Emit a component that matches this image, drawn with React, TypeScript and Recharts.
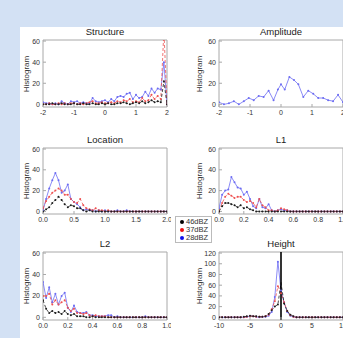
import { LineChart, Line, XAxis, YAxis, ReferenceArea, ReferenceLine } from "recharts"

// ---- data ----
const structX = [-2.0, -1.9, -1.8, -1.7, -1.6, -1.5, -1.4, -1.3, -1.2, -1.1, -1.0, -0.9, -0.8, -0.7, -0.6, -0.5, -0.4, -0.3, -0.2, -0.1, 0.0, 0.1, 0.2, 0.3, 0.4, 0.5, 0.6, 0.7, 0.8, 0.9, 1.0, 1.1, 1.2, 1.3, 1.4, 1.5, 1.6, 1.7, 1.8, 1.9, 2.0]
const struct28 = [2, 1, 1, 0, 1, 0, 3, 1, 0, 3, 2, 3, 1, 2, 1, 1, 6, 3, 2, 3, 4, 2, 5, 3, 7, 8, 7, 10, 11, 5, 9, 6, 7, 12, 8, 15, 11, 15, 14, 40, 0]
const struct37 = [0, 0, 1, 0, 0, 1, 0, 1, 0, 1, 1, 0, 1, 0, 1, 2, 3, 1, 1, 2, 1, 1, 2, 1, 3, 2, 4, 3, 5, 2, 3, 2, 6, 3, 4, 9, 5, 8, 5, 70, 0]
const struct46 = [0, 0, 0, 1, 0, 0, 1, 0, 0, 0, 1, 0, 0, 1, 0, 0, 1, 0, 0, 1, 0, 1, 0, 0, 1, 1, 2, 1, 0, 1, 2, 1, 3, 1, 2, 4, 2, 3, 2, 22, 0]

const ampX = [-2.0, -1.84, -1.68, -1.52, -1.36, -1.2, -1.04, -0.88, -0.72, -0.56, -0.4, -0.24, -0.1, 0.0, 0.12, 0.27, 0.42, 0.56, 0.72, 0.88, 1.04, 1.2, 1.36, 1.52, 1.68, 1.84, 2.0]
const amp28 = [2, 0, 1, 3, 0, 3, 6, 4, 8, 7, 13, 4, 14, 19, 14, 26, 23, 19, 7, 13, 10, 6, 6, 4, 3, 9, 2]

const locX = [0.0, 0.05, 0.1, 0.15, 0.2, 0.25, 0.3, 0.35, 0.4, 0.45, 0.5, 0.55, 0.6, 0.65, 0.7, 0.75, 0.8, 0.85, 0.9, 0.95, 1.0, 1.05, 1.1, 1.15, 1.2, 1.25, 1.3, 1.35, 1.4, 1.45, 1.5, 1.55, 1.6, 1.65, 1.7, 1.75, 1.8, 1.85, 1.9, 1.95, 2.0]
const loc28 = [1, 12, 22, 30, 37, 30, 18, 20, 26, 12, 9, 7, 4, 1, 2, 1, 1, 0, 1, 0, 1, 0, 0, 0, 1, 0, 0, 1, 0, 0, 0, 0, 0, 0, 0, 0, 0, 0, 0, 0, 0]
const loc37 = [3, 10, 14, 18, 20, 22, 20, 16, 16, 12, 9, 8, 12, 6, 3, 2, 1, 3, 1, 1, 0, 1, 0, 0, 0, 0, 0, 0, 0, 0, 0, 0, 0, 0, 0, 0, 0, 0, 0, 0, 0]
const loc46 = [0, 2, 4, 8, 11, 14, 11, 7, 4, 6, 5, 3, 3, 1, 0, 1, 0, 0, 0, 0, 0, 0, 0, 0, 0, 0, 0, 0, 0, 0, 0, 0, 0, 0, 0, 0, 0, 0, 0, 0, 0]

const lX = [0.0, 0.025, 0.05, 0.075, 0.1, 0.125, 0.15, 0.175, 0.2, 0.225, 0.25, 0.275, 0.3, 0.325, 0.35, 0.375, 0.4, 0.425, 0.45, 0.475, 0.5, 0.525, 0.55, 0.575, 0.6, 0.625, 0.65, 0.675, 0.7, 0.725, 0.75, 0.775, 0.8, 0.825, 0.85, 0.875, 0.9, 0.925, 0.95, 0.975, 1.0]
const l1_28 = [3, 16, 20, 21, 33, 28, 23, 22, 16, 19, 12, 5, 3, 12, 4, 3, 7, 1, 0, 1, 2, 1, 1, 0, 0, 0, 0, 0, 0, 0, 0, 0, 0, 0, 0, 0, 0, 0, 0, 0, 0]
const l1_37 = [0, 8, 14, 17, 15, 13, 14, 14, 11, 9, 10, 8, 4, 12, 6, 4, 1, 1, 0, 1, 3, 2, 1, 0, 0, 0, 0, 0, 0, 0, 0, 0, 0, 0, 0, 0, 0, 0, 0, 0, 0]
const l1_46 = [0, 5, 8, 8, 7, 6, 4, 6, 3, 4, 2, 1, 0, 0, 0, 0, 0, 0, 0, 0, 0, 0, 0, 0, 0, 0, 0, 0, 0, 0, 0, 0, 0, 0, 0, 0, 0, 0, 0, 0, 0]

const l2_28 = [33, 18, 28, 14, 22, 12, 20, 23, 9, 5, 11, 5, 4, 4, 5, 2, 2, 1, 1, 1, 1, 2, 2, 0, 1, 0, 0, 0, 0, 0, 0, 0, 0, 1, 0, 0, 0, 0, 0, 0, 0]
const l2_37 = [20, 20, 22, 12, 16, 12, 14, 16, 9, 6, 8, 4, 4, 3, 4, 2, 1, 2, 1, 1, 1, 0, 0, 0, 0, 0, 0, 0, 0, 0, 0, 0, 0, 0, 0, 0, 0, 0, 0, 0, 0]
const l2_46 = [16, 8, 4, 6, 4, 5, 3, 6, 3, 2, 3, 1, 1, 1, 0, 0, 1, 0, 0, 0, 0, 0, 0, 0, 0, 0, 0, 0, 0, 0, 0, 0, 0, 0, 0, 0, 0, 0, 0, 0, 0]

const hX = [-10, -9.5, -9, -8.5, -8, -7.5, -7, -6.5, -6, -5.5, -5, -4.5, -4, -3.5, -3, -2.5, -2, -1.5, -1, -0.5, 0, 0.5, 1, 1.5, 2, 2.5, 3, 3.5, 4, 4.5, 5, 5.5, 6, 6.5, 7, 7.5, 8, 8.5, 9, 9.5, 10]
const h28 = [0, 0, 0, 0, 0, 0, 0, 0, 0, 1, 2, 2, 1, 0, 1, 1, 3, 10, 38, 104, 50, 28, 10, 3, 1, 0, 0, 0, 0, 0, 0, 0, 0, 0, 0, 0, 0, 0, 0, 0, 0]
const h37 = [0, 0, 0, 0, 0, 0, 0, 0, 0, 1, 2, 2, 1, 1, 1, 2, 5, 15, 30, 58, 45, 28, 12, 4, 1, 0, 0, 0, 0, 0, 0, 0, 0, 0, 0, 0, 0, 0, 0, 0, 0]
const h46 = [0, 0, 0, 0, 0, 0, 0, 0, 1, 2, 3, 2, 2, 1, 1, 2, 6, 13, 20, 24, 64, 26, 12, 5, 2, 0, 0, 0, 0, 0, 0, 0, 0, 0, 0, 0, 0, 0, 0, 0, 0]

const legendNames = ["46dBZ", "37dBZ", "28dBZ"]

const FONT = "'Liberation Sans', Arial, Helvetica, sans-serif"
const COLORS = ["#1e1e1e", "#ee5050", "#6c6cf2"]
const FRAME = "#a8a8a8"
const TXT = "#333"

const ML = 26
const MT = 4
const MR = 4
const MB = 16

function Panel(props: any) {
  const { title, left, top, w, h, x, s46, s37, s28, xDomain, xTicks, xFmt, yDomain, yTicks, labelOff, zeroLine } = props
  const data = x.map((v: number, i: number) => ({
    x: v,
    a: s46 ? s46[i] : undefined,
    b: s37 ? s37[i] : undefined,
    c: s28[i],
  }))
  const tick = { fontSize: 7, fill: TXT, fontFamily: FONT }
  return (
    <>
      <div
        style={{
          position: "absolute",
          left: left,
          width: w,
          top: top - 14,
          textAlign: "center",
          fontFamily: FONT,
          fontSize: 9.5,
          color: "#222",
        }}
      >
        {title}
      </div>
      <div
        style={{
          position: "absolute",
          left: left - labelOff - 20,
          top: top + h / 2 - 5,
          width: 40,
          textAlign: "center",
          transform: "rotate(-90deg)",
          fontFamily: FONT,
          fontSize: 8,
          color: TXT,
          lineHeight: "10px",
        }}
      >
        Histogram
      </div>
      <div style={{ position: "absolute", left: left - ML, top: top - MT }}>
        <LineChart
          width={w + ML + MR}
          height={h + MT + MB}
          data={data}
          margin={{ top: MT, right: MR, bottom: 0, left: 0 }}
        >
          <XAxis
            dataKey="x"
            type="number"
            domain={xDomain}
            ticks={xTicks}
            tickFormatter={xFmt}
            allowDataOverflow
            height={MB}
            axisLine={false}
            tickLine={{ stroke: FRAME }}
            tickSize={-3}
            tickMargin={6}
            tick={tick}
            interval={0}
          />
          <YAxis
            type="number"
            domain={yDomain}
            ticks={yTicks}
            allowDataOverflow
            width={ML}
            axisLine={false}
            tickLine={{ stroke: FRAME }}
            tickSize={-3}
            tickMargin={6}
            tick={tick}
            interval={0}
          />
          <ReferenceArea
            x1={xDomain[0]}
            x2={xDomain[1]}
            y1={yDomain[0]}
            y2={yDomain[1]}
            fill="none"
            stroke={FRAME}
            strokeWidth={1}
          />
          <Line
            dataKey="c"
            stroke={COLORS[2]}
            strokeWidth={0.8}
            dot={{ r: 1, fill: COLORS[2], stroke: "none" }}
            isAnimationActive={false}
          />
          {s37 && (
            <Line
              dataKey="b"
              stroke={COLORS[1]}
              strokeWidth={0.8}
              strokeDasharray="3 2"
              dot={{ r: 1, fill: COLORS[1], stroke: "none" }}
              isAnimationActive={false}
            />
          )}
          {s46 && (
            <Line
              dataKey="a"
              stroke={COLORS[0]}
              strokeWidth={0.8}
              strokeDasharray="3 2"
              dot={{ r: 1, fill: COLORS[0], stroke: "none" }}
              isAnimationActive={false}
            />
          )}
          {zeroLine && <ReferenceLine x={0} stroke="#000" strokeWidth={1.6} />}
        </LineChart>
      </div>
    </>
  )
}

const intFmt = (v: number) => String(v)
const oneDec = (v: number) => v.toFixed(1)

export default function App() {
  const leftCol = 43
  const rightCol = 219
  const w = 124
  return (
    <div
      style={{
        position: "fixed",
        left: 0,
        top: 0,
        width: 343,
        height: 338,
        background: "#d3e1f4",
        overflow: "hidden",
      }}
    >
      <div style={{ position: "absolute", left: 20, top: 27, width: 323, height: 311, background: "#fff" }} />

      <Panel title="Structure" left={leftCol} top={40} w={w} h={67} x={structX} s46={struct46} s37={struct37} s28={struct28}
        xDomain={[-2, 2]} xTicks={[-2, -1, 0, 1, 2]} xFmt={intFmt} yDomain={[-2.5, 61]} yTicks={[0, 20, 40, 60]} labelOff={16} />
      <Panel title="Amplitude" left={rightCol} top={40} w={w} h={67} x={ampX} s28={amp28}
        xDomain={[-2, 2]} xTicks={[-2, -1, 0, 1, 2]} xFmt={intFmt} yDomain={[-2.5, 61]} yTicks={[0, 20, 40, 60]} labelOff={19} />

      <Panel title="Location" left={leftCol} top={148} w={w} h={66} x={locX} s46={loc46} s37={loc37} s28={loc28}
        xDomain={[0, 2]} xTicks={[0, 0.5, 1, 1.5, 2]} xFmt={oneDec} yDomain={[-2.5, 61]} yTicks={[0, 20, 40, 60]} labelOff={16} />
      <Panel title="L1" left={rightCol} top={148} w={w} h={66} x={lX} s46={l1_46} s37={l1_37} s28={l1_28}
        xDomain={[0, 1]} xTicks={[0, 0.2, 0.4, 0.6, 0.8, 1]} xFmt={oneDec} yDomain={[-2.5, 61]} yTicks={[0, 20, 40, 60]} labelOff={19} />

      <Panel title="L2" left={leftCol} top={252} w={w} h={68} x={lX} s46={l2_46} s37={l2_37} s28={l2_28}
        xDomain={[0, 1]} xTicks={[0, 0.2, 0.4, 0.6, 0.8, 1]} xFmt={oneDec} yDomain={[-2.5, 61]} yTicks={[0, 20, 40, 60]} labelOff={16} />
      <Panel title="Height" left={rightCol} top={252} w={w} h={68} x={hX} s46={h46} s37={h37} s28={h28}
        xDomain={[-10, 10]} xTicks={[-10, -5, 0, 5, 10]} xFmt={intFmt} yDomain={[-5, 122]} yTicks={[0, 20, 40, 60, 80, 100, 120]} labelOff={19} zeroLine />

      {/* legend */}
      <div
        style={{
          position: "absolute",
          left: 175,
          top: 216,
          width: 37,
          height: 27,
          border: "1px solid #bbb",
          background: "#fff",
          boxSizing: "border-box",
          padding: "1px 0 0 4px",
          fontFamily: FONT,
          fontSize: 7.5,
          lineHeight: "8px",
          color: TXT,
        }}
      >
        {legendNames.map((n, i) => (
          <div key={n} style={{ display: "flex", alignItems: "center", whiteSpace: "nowrap" }}>
            <span
              style={{
                display: "inline-block",
                width: 4,
                height: 4,
                borderRadius: 2,
                background: COLORS[i] === COLORS[2] ? "#1010ee" : COLORS[i] === COLORS[1] ? "#ee1010" : "#000",
                marginRight: 2,
              }}
            />
            {n}
          </div>
        ))}
      </div>
    </div>
  )
}
